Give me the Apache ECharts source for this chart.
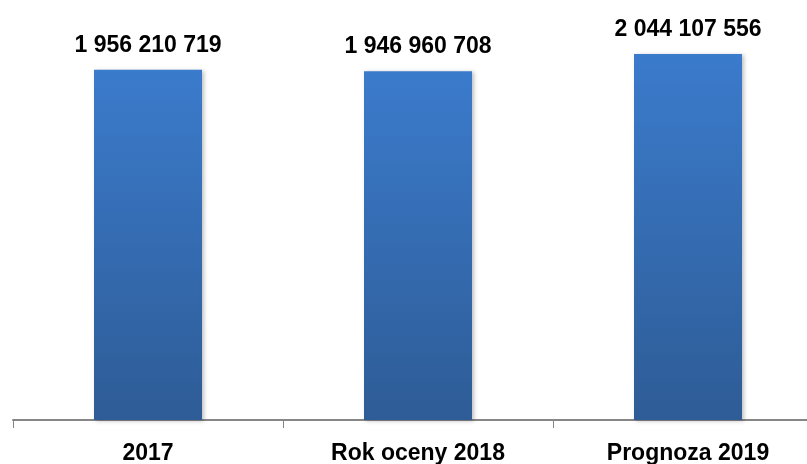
<!DOCTYPE html>
<html>
<head>
<meta charset="utf-8">
<script src="https://cdn.jsdelivr.net/npm/echarts@6/dist/echarts.min.js"></script>
<style>
  html, body { margin: 0; padding: 0; background: #fff; }
  #chart { width: 807px; height: 464px; }
</style>
</head>
<body>
<div id="chart"></div>
<script>
// dane
const categories = ['2017', 'Rok oceny 2018', 'Prognoza 2019']
const values = [1956210719, 1946960708, 2044107556]

function fmt(v) {
  // separator tysięcy: spacja
  return String(v).replace(/\B(?=(\d{3})+(?!\d))/g, ' ')
}

const chart = echarts.init(document.getElementById('chart'))

chart.setOption({
  animation: false,
  grid: {
    left: 13,
    width: 810,
    top: 26,
    bottom: 44,
    outerBoundsMode: 'none'
  },
  xAxis: {
    type: 'category',
    data: categories,
    axisLine: { lineStyle: { color: '#868686', width: 2 } },
    axisTick: { show: true, alignWithLabel: false, length: 8, lineStyle: { color: '#868686', width: 1 } },
    axisLabel: {
      margin: 22,
      color: '#000',
      fontFamily: 'Liberation Sans',
      fontWeight: 'bold',
      fontSize: 23
    }
  },
  yAxis: {
    type: 'value',
    min: 0,
    max: 2200000000,
    show: false,
    splitLine: { show: false }
  },
  series: [{
    type: 'bar',
    data: values,
    barWidth: '40%',
    itemStyle: {
      color: new echarts.graphic.LinearGradient(0, 0, 0, 1, [
        { offset: 0, color: '#3b7bcc' },
        { offset: 1, color: '#2e5c96' }
      ]),
      shadowColor: 'rgba(0,0,0,0.25)',
      shadowBlur: 4,
      shadowOffsetX: 2,
      shadowOffsetY: 1
    },
    label: {
      show: true,
      position: 'top',
      distance: 13,
      color: '#000',
      fontFamily: 'Liberation Sans',
      fontWeight: 'bold',
      fontSize: 23,
      formatter: p => fmt(p.value)
    }
  }]
})
</script>
</body>
</html>
